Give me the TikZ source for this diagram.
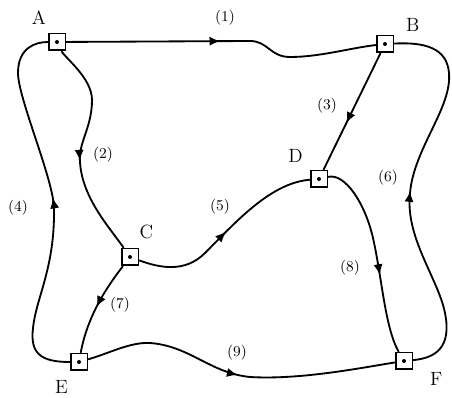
\documentclass[tikz,border=0pt]{standalone}
\usepackage{amsmath}
\usetikzlibrary{arrows.meta,positioning,decorations.markings}

\tikzset{
  station/.style={draw, rectangle, minimum size=10pt, inner sep=0pt, line width=1pt,
    path picture={\fill (path picture bounding box.center) circle (1.2pt);}},
  route/.style={line width=1.1pt},
  midarrow/.style={postaction={decorate}, decoration={markings,
    mark=at position #1 with {\arrow{Latex[length=6.5pt,width=5.5pt]}}}},
  tag/.style={inner sep=0pt, font=\fontsize{11.5}{13}\selectfont},
  num/.style={inner sep=0pt, font=\small}
}

\begin{document}
\begin{tikzpicture}[x=0.6pt,y=0.6pt]
\useasboundingbox (0,0) rectangle (452,398);
% the six stations
\node[station] (A) at (57,356) {};
\node[station] (B) at (385,354) {};
\node[station] (C) at (130,141) {};
\node[station] (D) at (319,219) {};
\node[station] (E) at (79,36) {};
\node[station] (F) at (404,37) {};
\node[tag, above left=5pt and 1pt of A] (lA) {A};
\node[tag, above right=2pt and 7pt of B] (lB) {B};
\node[tag, above left=4pt and 4pt of D] (lD) {D};
\node[tag, above right=5pt and 0pt of C] (lC) {C};
\node[tag, below left=5.5pt and 1pt of E] (lE) {E};
\node[tag, below right=1pt and 10pt of F] (lF) {F};
% the routes
\draw[route, midarrow=0.49] (A) -- (250,357) .. controls (268,357) and (270,341) .. (290,341)
  .. controls (320,341) and (350,350) .. (B);
\draw[route, midarrow=0.55] (A) .. controls (65,340) and (92,320) .. (92,298)
  .. controls (92,270) and (78,255) .. (80,236) .. controls (82,200) and (110,170) .. (C);
\draw[route, midarrow=0.6] (B) -- (D);
\draw[route, midarrow=0.52] (E) .. controls (40,36) and (30,45) .. (33,70)
  .. controls (36,100) and (55,130) .. (54,190) .. controls (53,220) and (18,300) .. (18,325)
  .. controls (18,350) and (35,356) .. (A);
\draw[route, midarrow=0.5] (C) .. controls (160,130) and (185,125) .. (205,145)
  .. controls (235,175) and (270,215) .. (D);
\draw[route, midarrow=0.5] (F) .. controls (435,40) and (452,50) .. (445,85)
  .. controls (438,120) and (405,160) .. (410,205) .. controls (414,250) and (452,290) .. (449,325)
  .. controls (447,350) and (425,356) .. (B);
\draw[route, midarrow=0.5] (C) .. controls (110,115) and (88,85) .. (E);
\draw[route, midarrow=0.6] (D) .. controls (345,225) and (365,195) .. (373,160)
  .. controls (382,120) and (385,70) .. (F);
\draw[route, midarrow=0.5] (E) .. controls (110,45) and (130,56) .. (150,55)
  .. controls (190,52) and (210,25) .. (250,21) .. controls (300,18) and (360,30) .. (F);
% route numbers
\node[num] (n1) at (225,380) {(1)};
\node[num] (n2) at (103,243) {(2)};
\node[num] (n3) at (327,292) {(3)};
\node[num] (n4) at (18,190) {(4)};
\node[num] (n5) at (220,191) {(5)};
\node[num] (n6) at (388,220) {(6)};
\node[num] (n7) at (120,93) {(7)};
\node[num] (n8) at (350,130) {(8)};
\node[num] (n9) at (237,45) {(9)};
\end{tikzpicture}
\end{document}
